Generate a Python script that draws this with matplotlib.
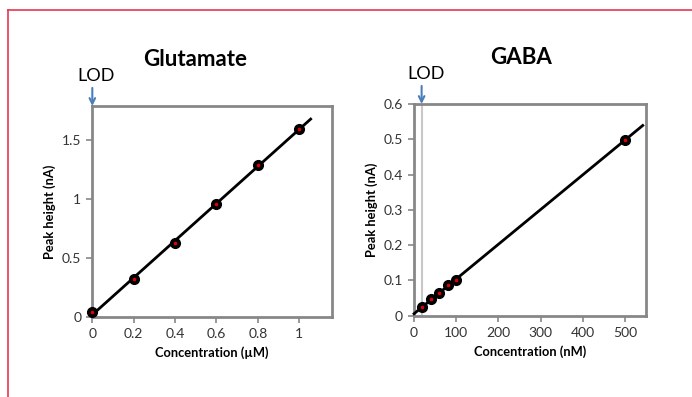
import numpy as np
import matplotlib.pyplot as plt
from matplotlib.lines import Line2D

# Glutamate-Kalibrierung (µM -> nA)
glu_conc = [0, 0.2, 0.4, 0.6, 0.8, 1.0]
glu_peak = [0.037, 0.318, 0.629, 0.958, 1.287, 1.596]
glu_ticks_x = [0, 0.2, 0.4, 0.6, 0.8, 1]
glu_ticks_y = [0, 0.5, 1, 1.5]
glu_lod = 0.0

# GABA-Kalibrierung (nM -> nA)
gaba_conc = [20, 40, 60, 80, 100, 500]
gaba_peak = [0.024, 0.047, 0.065, 0.086, 0.101, 0.498]
gaba_ticks_x = [0, 100, 200, 300, 400, 500]
gaba_ticks_y = [0, 0.1, 0.2, 0.3, 0.4, 0.5, 0.6]
gaba_lod = 18

FONT = ['Lato', 'DejaVu Sans']
plt.rcParams['font.family'] = FONT
SPINE = '#878787'
LOD_BLUE = '#4a7ebb'


def calib_panel(ax, x, y, fit_end, xlim, ylim, xt, yt, title, title_x, xlabel, lod, lod_line):
    # Trendlinie
    k, d = np.polyfit(x, y, 1)
    xf = np.array([0, fit_end])
    ax.plot(xf, k * xf + d, color='black', lw=2, zorder=3, clip_on=False)
    # Messpunkte
    ax.plot(x, y, 'o', ms=7, mfc='black', mec='black', zorder=4, clip_on=False)
    ax.plot(x, y, 'o', ms=1.6, mfc='#e00000', mec='#e00000', zorder=5, clip_on=False)
    if lod_line:
        ax.axvline(lod, color='#c8c8c8', lw=1.5, zorder=1)
    ax.set_xlim(*xlim)
    ax.set_ylim(*ylim)
    ax.set_xticks(xt)
    ax.set_yticks(yt)
    ax.set_xticklabels([f'{v:g}' for v in xt])
    ax.set_yticklabels([f'{v:g}' for v in yt])
    for s in ax.spines.values():
        s.set_color(SPINE)
        s.set_linewidth(2)
    ax.tick_params(direction='out', length=4, width=1.2, color=SPINE,
                   labelsize=10, labelcolor='#333333', pad=4)
    ax.set_xlabel(xlabel, fontsize=9.3, fontweight='bold', labelpad=5)
    ax.set_ylabel('Peak height (nA)', fontsize=9.3, fontweight='bold', labelpad=4)
    ax.set_title(title, fontsize=16, fontweight='bold', pad=29, x=title_x)
    # LOD-Pfeil
    ax.annotate('', xy=(lod, ylim[1]), xycoords='data',
                xytext=(0, 13), textcoords='offset points',
                arrowprops=dict(arrowstyle='->', color=LOD_BLUE, lw=1.5,
                                shrinkA=0, shrinkB=0))
    ax.annotate('LOD', xy=(lod, ylim[1]), xycoords='data',
                xytext=(3, 16), textcoords='offset points',
                ha='center', va='bottom', fontsize=13)


fig = plt.figure(figsize=(6.92, 3.97), dpi=100)

# roter Rahmen (oben und links)
fig.add_artist(Line2D([8 / 692, 1], [1 - 10 / 397, 1 - 10 / 397],
                      color='#e8364f', lw=1.2, transform=fig.transFigure))
fig.add_artist(Line2D([8 / 692, 8 / 692], [0, 1 - 10 / 397],
                      color='#e8364f', lw=1.2, transform=fig.transFigure))

ax1 = fig.add_axes([0.1334, 0.2023, 0.346, 0.5307])
calib_panel(ax1, glu_conc, glu_peak, 1.055, (0, 1.157), (0, 1.79),
            glu_ticks_x, glu_ticks_y, 'Glutamate', 0.431, 'Concentration (µM)',
            glu_lod, False)

ax2 = fig.add_axes([0.5983, 0.2048, 0.3348, 0.5332])
calib_panel(ax2, gaba_conc, gaba_peak, 542, (0, 549), (0, 0.6),
            gaba_ticks_x, gaba_ticks_y, 'GABA', 0.46, 'Concentration (nM)',
            gaba_lod, True)

fig.savefig('out.png', dpi=100)
